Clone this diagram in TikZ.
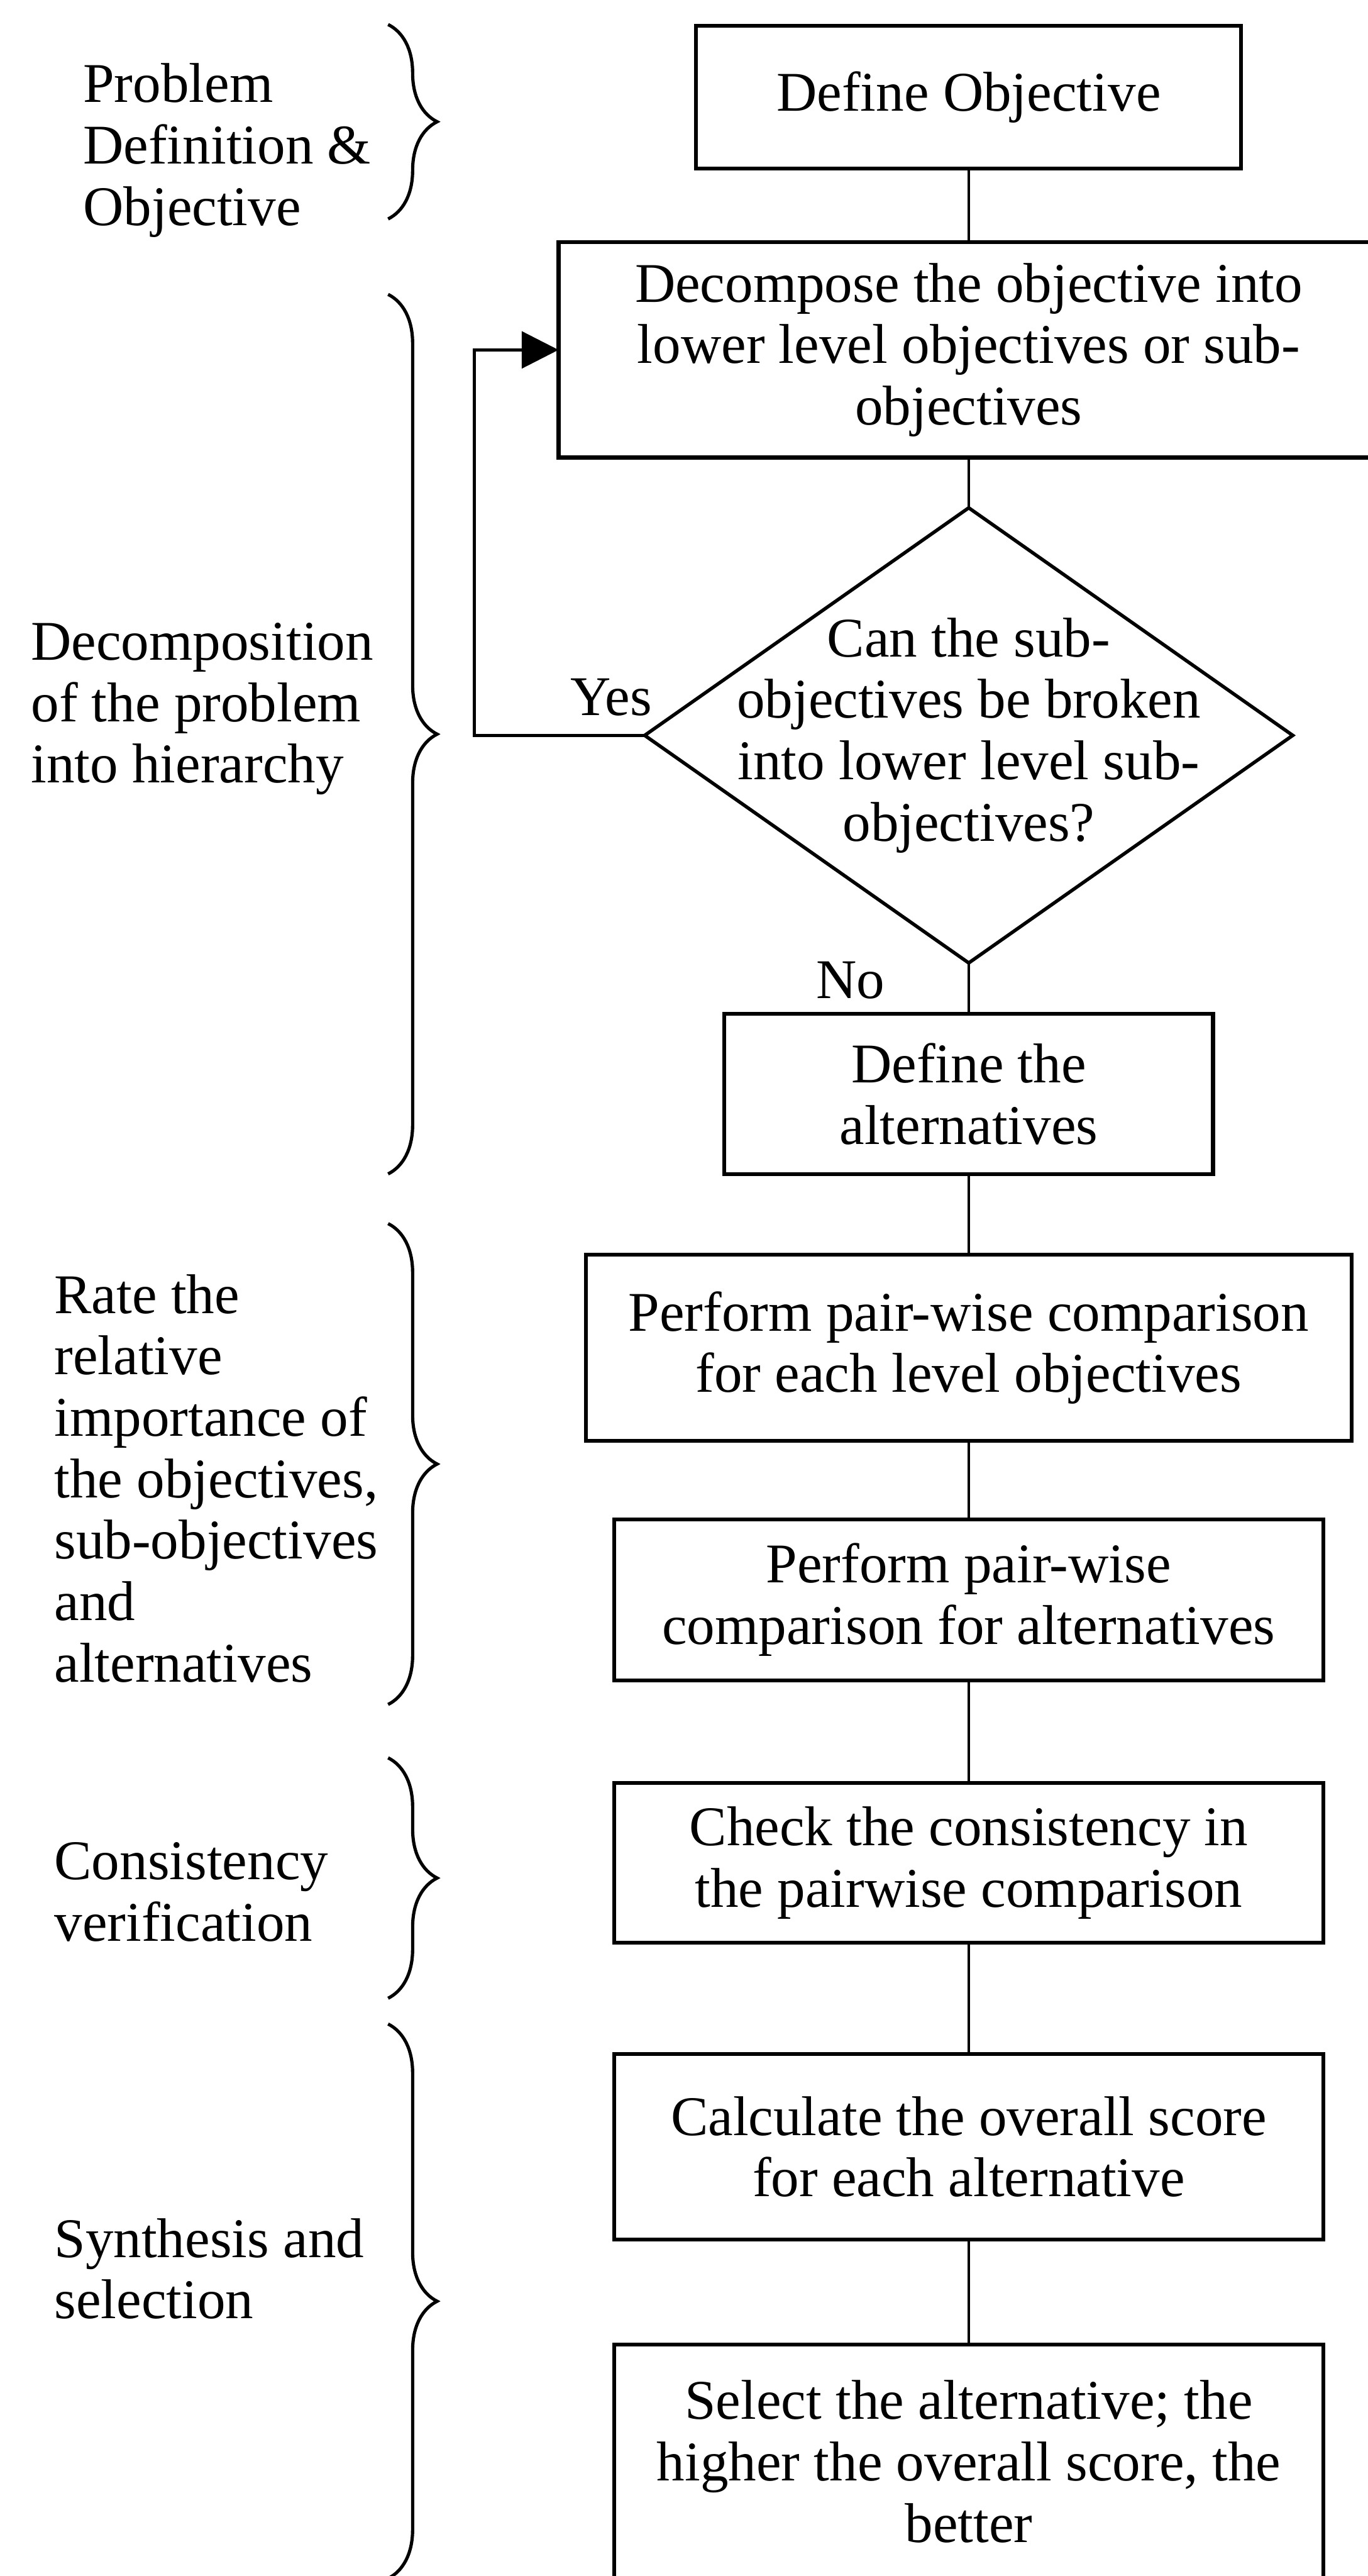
\documentclass[tikz,border=0pt]{standalone}
\usepackage{fontspec}
\setmainfont{Liberation Serif}
\usepackage{tikz}
\usetikzlibrary{arrows.meta,decorations.pathreplacing,positioning,shapes.geometric}
\tikzstyle{stage} = [rectangle, draw, line width=1.8pt, align=center, inner sep=0pt, outer sep=0pt]
\tikzset{edge/.style = {
    line width=1.3pt,
  }
}

\begin{document}
\begin{tikzpicture}[x=1mm, y=-1mm, font=\fontsize{26}{28.5}\selectfont]
          \useasboundingbox (0,0) rectangle (223.1,420);
          % vertices
          \tikzstyle{decision} = [diamond, draw, line width=1.6pt, inner sep=0pt, outer sep=0pt]
          \tikzstyle{phase} = [align=left, anchor=north west, inner sep=0pt]
          \tikzstyle{bracket} = [decorate, decoration={brace, amplitude=8mm}, line width=1.5pt]

          \node[stage, minimum width=88.9mm, minimum height=23.3mm] (defobj) at (158,15.85) {Define Objective};
          \node[stage, minimum width=133.8mm, minimum height=35.1mm, below=12mm of defobj] (decomp) {Decompose the objective into\\lower level objectives or sub-\\objectives};
          \node[decision, minimum width=105.7mm, minimum height=74.2mm, below=8.2mm of decomp,
                label={[align=center]center:{Can the sub-\\objectives be broken\\into lower level sub-\\objectives?}}] (ask) {};
          \node[stage, minimum width=79.7mm, minimum height=26.1mm, below=8.3mm of ask] (defalt) {Define the\\alternatives};
          \node[stage, minimum width=124.9mm, minimum height=30.3mm, below=13.2mm of defalt] (pairobj) {Perform pair-wise comparison\\for each level objectives};
          \node[stage, minimum width=115.6mm, minimum height=26.3mm, below=12.8mm of pairobj] (pairalt) {Perform pair-wise\\comparison for alternatives};
          \node[stage, minimum width=115.6mm, minimum height=26mm, below=16.7mm of pairalt] (check) {Check the consistency in\\the pairwise comparison};
          \node[stage, minimum width=115.6mm, minimum height=30.2mm, below=18.2mm of check] (score) {Calculate the overall score\\for each alternative};
          \node[stage, minimum width=115.6mm, minimum height=38.1mm, below=17.2mm of score] (select) {Select the alternative; the\\higher the overall score, the\\better};

          \node[phase] (lblprob) at (13.5,10.3) {Problem\\Definition \&\\Objective};
          \node[phase] (lbldec) at (5,101.5) {Decomposition\\of the problem\\into hierarchy};
          \node[phase] (lblrate) at (8.8,207.7) {Rate the\\relative\\importance of\\the objectives,\\sub-objectives\\and\\alternatives};
          \node[phase] (lblcons) at (8.8,300.3) {Consistency\\verification};
          \node[phase] (lblsyn) at (8.8,361.6) {Synthesis and\\selection};

          \draw[bracket] (63.3,4) -- (63.3,35.7);
          \draw[bracket] (63.3,48) -- (63.3,191.4);
          \draw[bracket] (63.3,199.5) -- (63.3,277.9);
          \draw[bracket] (63.3,286.6) -- (63.3,325.8);
          \draw[bracket] (63.3,330) -- (63.3,420.4);

          % edges
          \draw[edge] (defobj) -- (decomp);
          \draw[edge] (decomp) -- (ask);
          \draw[edge] (ask.south) node[anchor=base east, inner sep=0pt, xshift=-13.5mm, yshift=-5.8mm] {No} -- (defalt);
          \draw[edge, -{Triangle[length=6mm, width=6mm]}] (ask.west) node[anchor=south east, inner sep=0pt, xshift=1.4mm, yshift=2.9mm] {Yes} -- ++(-27.8,0) |- (decomp.west);
          \draw[edge] (defalt) -- (pairobj);
          \draw[edge] (pairobj) -- (pairalt);
          \draw[edge] (pairalt) -- (check);
          \draw[edge] (check) -- (score);
          \draw[edge] (score) -- (select);
\end{tikzpicture}
\end{document}
